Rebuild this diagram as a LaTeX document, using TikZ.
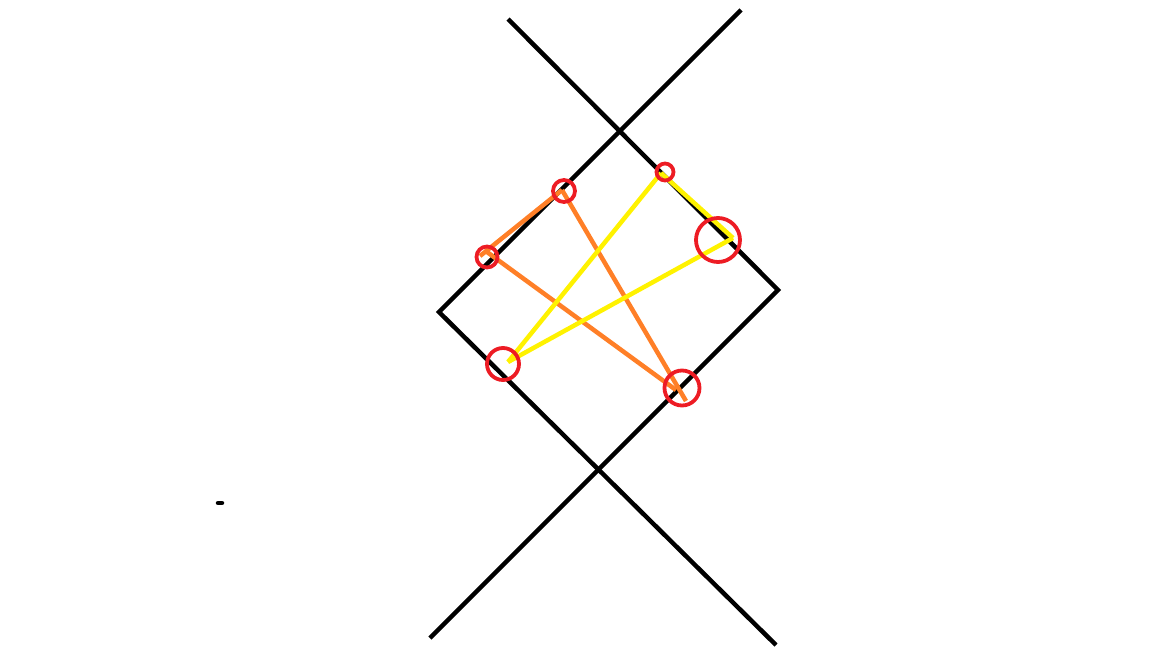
\documentclass[tikz,border=0pt]{standalone}
\usepackage{tikz}
\definecolor{mark}{RGB}{237,28,36}
\definecolor{ray}{RGB}{255,127,39}
\definecolor{glow}{RGB}{255,242,0}
\tikzset{
  wall/.style={line width=4.5pt},
  ring/.style={draw=mark,circle,line width=3.8pt,inner sep=0pt},
  orange ray/.style={draw=ray,line width=4.5pt},
  yellow ray/.style={draw=glow,line width=4.5pt}
}

\begin{document}
\begin{tikzpicture}[x=1pt,y=-1pt]
  \useasboundingbox (0,0) rectangle (1152,648);

  \draw[wall] (741,10) -- (439,312) -- (776,645);
  \draw[wall] (508,19) -- (778,290) -- (430,638);
  \draw[line width=4.5pt,line cap=round] (218,503) -- (222,503);

  \coordinate (pA) at (562,190);
  \coordinate (pB) at (480,256);
  \coordinate (pB2) at (487,252);
  \coordinate (pC) at (661,173);
  \coordinate (pD) at (733,238);
  \coordinate (pE) at (508,362);
  \coordinate (pF) at (676,390);
  \coordinate (pF2) at (686,401);

  \draw[orange ray] (pA) -- (pB);
  \draw[orange ray] (pB2) -- (pF);
  \draw[orange ray] (pA) -- (pF2);

  \draw[yellow ray] (pC) -- (pD);
  \draw[yellow ray] (pC) -- (pE);
  \draw[yellow ray] (pD) -- (pE);

  \node[ring,minimum size=22pt] (hitA) at (564,191) {};
  \node[ring,minimum size=21pt] (hitB) at (487,257) {};
  \node[ring,minimum size=17pt] (hitC) at (665,172) {};
  \node[ring,minimum size=44pt] (hitD) at (718,240) {};
  \node[ring,minimum size=32pt] (hitE) at (503,364) {};
  \node[ring,minimum size=35pt] (hitF) at (682,388) {};
\end{tikzpicture}
\end{document}
